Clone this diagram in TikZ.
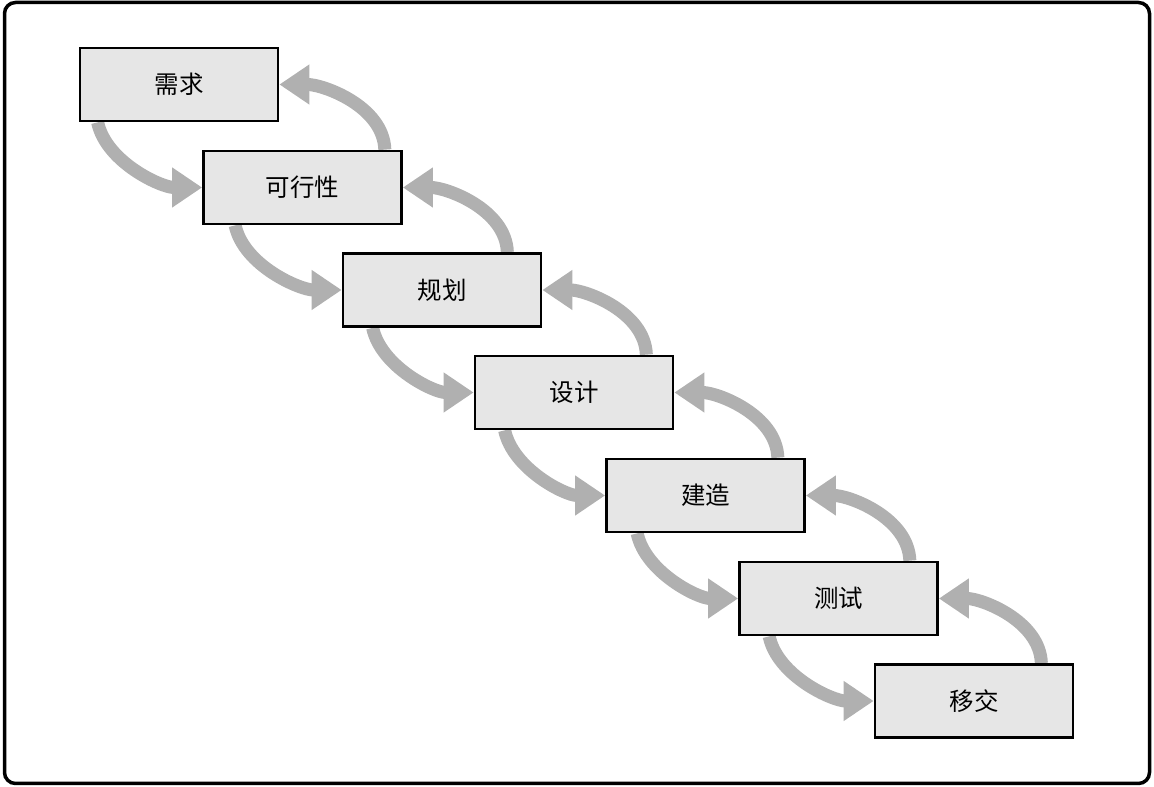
\documentclass[tikz,border=0pt]{standalone}
\usepackage{fontspec}
\newfontfamily\cjk{Noto Sans CJK SC}
\usetikzlibrary{arrows.meta,calc,backgrounds}
\definecolor{boxfill}{RGB}{230,230,230}
\definecolor{flowgray}{RGB}{176,176,176}
\begin{document}
\begin{tikzpicture}[x=1pt,y=1pt,
  stagebox/.style={draw=black,line width=2.7pt,fill=boxfill,minimum width=198pt,minimum height=73pt,inner sep=0pt,font=\cjk\fontsize{24.5}{24.5}\selectfont},
  flow/.style={draw=flowgray,line width=13pt,-{Triangle[length=30pt,width=38pt]}},
  fwd/.style={flow,out=-78,in=180,looseness=0.85},
  back/.style={flow,out=92,in=0,looseness=0.9},
  frame/.style={draw=black,line width=3.5pt,rounded corners=11pt}]
\useasboundingbox (0,0) rectangle (1154,787);
\draw[frame] (4.5,3.5) rectangle (1149.5,784.5);
\node[stagebox] (b1) at (179,702.5) {需求};
\node[stagebox] (b2) at (302.5,599.5) {可行性};
\node[stagebox] (b3) at (442,497) {规划};
\node[stagebox] (b4) at (574,394.5) {设计};
\node[stagebox] (b5) at (705.5,291.5) {建造};
\node[stagebox] (b6) at (838.5,188.5) {测试};
\node[stagebox] (b7) at (974,86) {移交};
\begin{scope}[on background layer]
% forward (down) arrows
\draw[fwd] ($(b1.south west)+(19,0)$) to (b2.west);
\draw[fwd] ($(b2.south west)+(33,0)$) to (b3.west);
\draw[fwd] ($(b3.south west)+(31,0)$) to (b4.west);
\draw[fwd] ($(b4.south west)+(31,0)$) to (b5.west);
\draw[fwd] ($(b5.south west)+(32,0)$) to (b6.west);
\draw[fwd] ($(b6.south west)+(31,0)$) to (b7.west);
% feedback (up) arrows
\draw[back] ($(b2.north east)+(-18,0)$) to (b1.east);
\draw[back] ($(b3.north east)+(-35,0)$) to (b2.east);
\draw[back] ($(b4.north east)+(-28,0)$) to (b3.east);
\draw[back] ($(b5.north east)+(-28,0)$) to (b4.east);
\draw[back] ($(b6.north east)+(-29,0)$) to (b5.east);
\draw[back] ($(b7.north east)+(-33,0)$) to (b6.east);
\end{scope}
\end{tikzpicture}
\end{document}
